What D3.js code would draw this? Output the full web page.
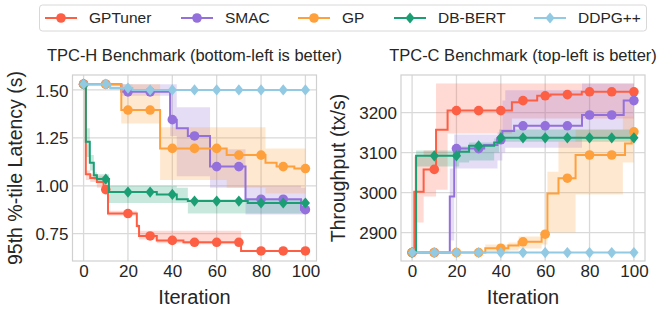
<!DOCTYPE html>
<html>
<head>
<meta charset="utf-8">
<script src="https://cdn.jsdelivr.net/npm/d3@7"></script>
<style>
  body { margin: 0; background: #fff; }
  text { font-family: "Liberation Sans", Arial, sans-serif; fill: #262626; }
</style>
</head>
<body>
<div id="chart"></div>
<script>
// Methods and legend
const methods = ["GPTuner", "SMAC", "GP", "DB-BERT", "DDPG++"];
const colors = ["#fd5f45", "#9370db", "#fea03c", "#1b9e74", "#92c9e3"];
const markerShapes = ["circle", "circle", "circle", "diamond", "diamond"];

const iterTicks = [0, 20, 40, 60, 80, 100];
const markerIters = [0, 10, 20, 30, 40, 50, 60, 70, 80, 90, 100];

// Each row: [iteration where value changes, mean, band low, band high]
// TPC-H latency (s)
const tpchGPTuner = [[0,1.53,1.53,1.53],[1,1.06,1.03,1.08],[3,1.04,1.02,1.06],[6,1.02,0.99,1.05],[9,0.98,0.97,1.02],[11,0.855,0.845,0.87],[24,0.79,0.78,0.80],[25,0.738,0.72,0.765],[33,0.715,0.70,0.765],[45,0.705,0.695,0.765],[71,0.66,0.655,0.665],[100,0.66,0.655,0.665]];
const tpchSMAC = [[0,1.53,1.53,1.53],[17,1.49,1.47,1.53],[39,1.345,1.26,1.53],[42,1.30,1.05,1.41],[47,1.26,1.05,1.41],[57,1.10,0.99,1.19],[73,0.93,0.85,1.0],[98,0.875,0.85,0.99],[100,0.875,0.85,0.99]];
const tpchGP = [[0,1.53,1.53,1.53],[17,1.395,1.325,1.53],[34.5,1.195,1.03,1.305],[64.5,1.16,0.99,1.305],[82,1.12,0.96,1.195],[87,1.10,0.96,1.195],[95,1.09,0.96,1.195],[100,1.09,0.96,1.195]];
const tpchDBBERT = [[0,1.53,1.53,1.53],[1,1.23,1.15,1.30],[2.8,1.12,1.08,1.16],[4.6,1.055,1.03,1.07],[6,1.035,1.02,1.06],[11.4,0.967,0.91,1.0],[33,0.955,0.91,1.0],[42,0.93,0.91,0.99],[47,0.92,0.855,0.93],[74,0.91,0.855,0.93],[100,0.91,0.855,0.93]];
const tpchDDPG = [[0,1.53,1.53,1.53],[12,1.51,1.50,1.53],[22,1.50,1.495,1.505],[100,1.50,1.495,1.505]];

// TPC-C throughput (tx/s)
const tpccGPTuner = [[0,2850,2850,2850],[1,3002,2925,3090],[5.2,3058,2990,3105],[10.8,3157,3007,3273],[16,3205,3148,3273],[45,3226,3185,3273],[49,3230,3185,3273],[56.4,3242,3185,3273],[62.4,3245,3185,3273],[76.5,3252,3185,3273],[100,3252,3185,3273]];
const tpccSMAC = [[0,2850,2850,2850],[17,2990,2880,3060],[19,3110,3060,3145],[32.5,3119,3060,3145],[38.5,3132,3080,3150],[40.7,3154,3100,3230],[42,3154,3112,3256],[46,3167,3112,3256],[76.6,3194,3140,3273],[95.4,3230,3140,3273],[100,3230,3140,3273]];
const tpccGP = [[0,2850,2850,2850],[33,2861,2852,2870],[43.4,2868,2855,2875],[48,2877,2860,2890],[58.4,2896,2870,2905],[61,2998,2900,3052],[66,3036,2900,3127],[73.7,3094,2995,3157],[95,3094,3075,3190],[96,3123,3075,3190],[99,3152,3075,3190],[100,3152,3075,3190]];
const tpccDBBERT = [[0,2850,2850,2850],[1.8,3092,3065,3105],[21.2,3102,3075,3115],[25.7,3117,3080,3125],[37,3125,3100,3135],[39.2,3137,3127,3158],[100,3137,3127,3158]];
const tpccDDPG = [[0,2850,2850,2850],[100,2850,2850,2850]];

const tpchTicks = [0.75, 1.00, 1.25, 1.50];
const tpccTicks = [2900, 3000, 3100, 3200];

const W = 664, H = 314;
const svg = d3.select("#chart").append("svg")
    .attr("width", W)
    .attr("height", H);

// marker path: circle or a slightly tall diamond
function markerPath(shape) {
    if (shape === "circle") return d3.symbol().type(d3.symbolCircle).size(72)();
    return "M0,-5.6L4.6,0L0,5.6L-4.6,0Z";
}

function drawPanel(cfg) {
    const x = d3.scaleLinear().domain([-5, 105]).range([cfg.left, cfg.right]);
    const y = d3.scaleLinear().domain(cfg.yDomain).range([cfg.bottom, cfg.top]);
    const g = svg.append("g");

    // Grid lines
    g.selectAll(".gx").data(iterTicks).enter().append("line")
        .attr("x1", d => x(d)).attr("x2", d => x(d))
        .attr("y1", cfg.top).attr("y2", cfg.bottom)
        .attr("stroke", "#d9d9d9").attr("stroke-width", 1.3);
    g.selectAll(".gy").data(cfg.yTicks).enter().append("line")
        .attr("x1", cfg.left).attr("x2", cfg.right)
        .attr("y1", d => y(d)).attr("y2", d => y(d))
        .attr("stroke", "#d9d9d9").attr("stroke-width", 1.3);

    // Frame
    g.append("rect")
        .attr("x", cfg.left).attr("y", cfg.top)
        .attr("width", cfg.right - cfg.left).attr("height", cfg.bottom - cfg.top)
        .attr("fill", "none").attr("stroke", "#d0d0d0").attr("stroke-width", 1.2);

    // Axes (labels only, no tick marks)
    const xAxis = g.append("g")
        .attr("transform", `translate(0,${cfg.bottom})`)
        .call(d3.axisBottom(x).tickValues(iterTicks).tickSize(0).tickPadding(16));
    const yAxis = g.append("g")
        .attr("transform", `translate(${cfg.left},0)`)
        .call(d3.axisLeft(y).tickValues(cfg.yTicks).tickSize(0).tickPadding(4).tickFormat(cfg.fmt));
    [xAxis, yAxis].forEach(a => {
        a.select(".domain").remove();
        a.selectAll("text").style("font-size", "17px").attr("fill", "#262626");
    });
    yAxis.selectAll("text").attr("dy", "0.36em");
    xAxis.selectAll("text").attr("dy", "0");

    const line = d3.line().x(d => x(d[0])).y(d => y(d[1])).curve(d3.curveStepAfter);
    const area = d3.area().x(d => x(d[0])).y0(d => y(d[2])).y1(d => y(d[3])).curve(d3.curveStepAfter);

    // Bands
    cfg.series.forEach((s, i) => {
        g.append("path").datum(s)
            .attr("d", area)
            .attr("fill", colors[i]).attr("fill-opacity", 0.24);
    });

    // Lines and markers
    cfg.series.forEach((s, i) => {
        g.append("path").datum(s)
            .attr("d", line)
            .attr("fill", "none").attr("stroke", colors[i]).attr("stroke-width", 2);

        const pts = markerIters.map(it => {
            let v = s[0][1];
            s.forEach(r => { if (r[0] <= it) v = r[1]; });
            return [it, v];
        });
        g.selectAll(null).data(pts).enter().append("path")
            .attr("d", markerPath(markerShapes[i]))
            .attr("transform", d => `translate(${x(d[0])},${y(d[1])})`)
            .attr("fill", colors[i]);
    });

    // Title
    g.append("text")
        .attr("x", (cfg.left + cfg.right) / 2).attr("y", 61)
        .attr("text-anchor", "middle")
        .style("font-size", "16.5px")
        .text(cfg.title);

    // X label
    g.append("text")
        .attr("x", (cfg.left + cfg.right) / 2).attr("y", 304)
        .attr("text-anchor", "middle")
        .style("font-size", "20px")
        .text("Iteration");

    // Y label
    g.append("text")
        .attr("transform", `translate(${cfg.ylabelX},${(cfg.top + cfg.bottom) / 2}) rotate(-90)`)
        .attr("text-anchor", "middle")
        .attr("dy", "0.35em")
        .style("font-size", "19.5px")
        .text(cfg.ylabel);
}

drawPanel({
    left: 72.5, right: 316.5, top: 75, bottom: 261,
    yDomain: [0.6075, 1.578], yTicks: tpchTicks, fmt: d3.format(".2f"),
    series: [tpchGPTuner, tpchSMAC, tpchGP, tpchDBBERT, tpchDDPG],
    title: "TPC-H Benchmark (bottom-left is better)",
    ylabel: "95th %-tile Latency (s)", ylabelX: 15
});

drawPanel({
    left: 401, right: 645, top: 75, bottom: 261,
    yDomain: [2829, 3294], yTicks: tpccTicks, fmt: d3.format("d"),
    series: [tpccGPTuner, tpccSMAC, tpccGP, tpccDBBERT, tpccDDPG],
    title: "TPC-C Benchmark (top-left is better)",
    ylabel: "Throughput (tx/s)", ylabelX: 338
});

// Legend
const legend = svg.append("g");
legend.append("rect")
    .attr("x", 39.5).attr("y", 5)
    .attr("width", 607).attr("height", 26)
    .attr("rx", 3)
    .attr("fill", "#fff").attr("stroke", "#d8d8d8");
const legendX = [45, 181, 298, 394, 534];
methods.forEach((m, i) => {
    const lg = legend.append("g").attr("transform", `translate(${legendX[i]},18)`);
    lg.append("line").attr("x1", 0).attr("x2", 32).attr("y1", 0).attr("y2", 0)
        .attr("stroke", colors[i]).attr("stroke-width", 2);
    lg.append("path").attr("d", markerPath(markerShapes[i]))
        .attr("transform", "translate(16,0)").attr("fill", colors[i]);
    lg.append("text").attr("x", 44).attr("y", 0).attr("dy", "0.35em")
        .style("font-size", "15.5px").text(m);
});
</script>
</body>
</html>
